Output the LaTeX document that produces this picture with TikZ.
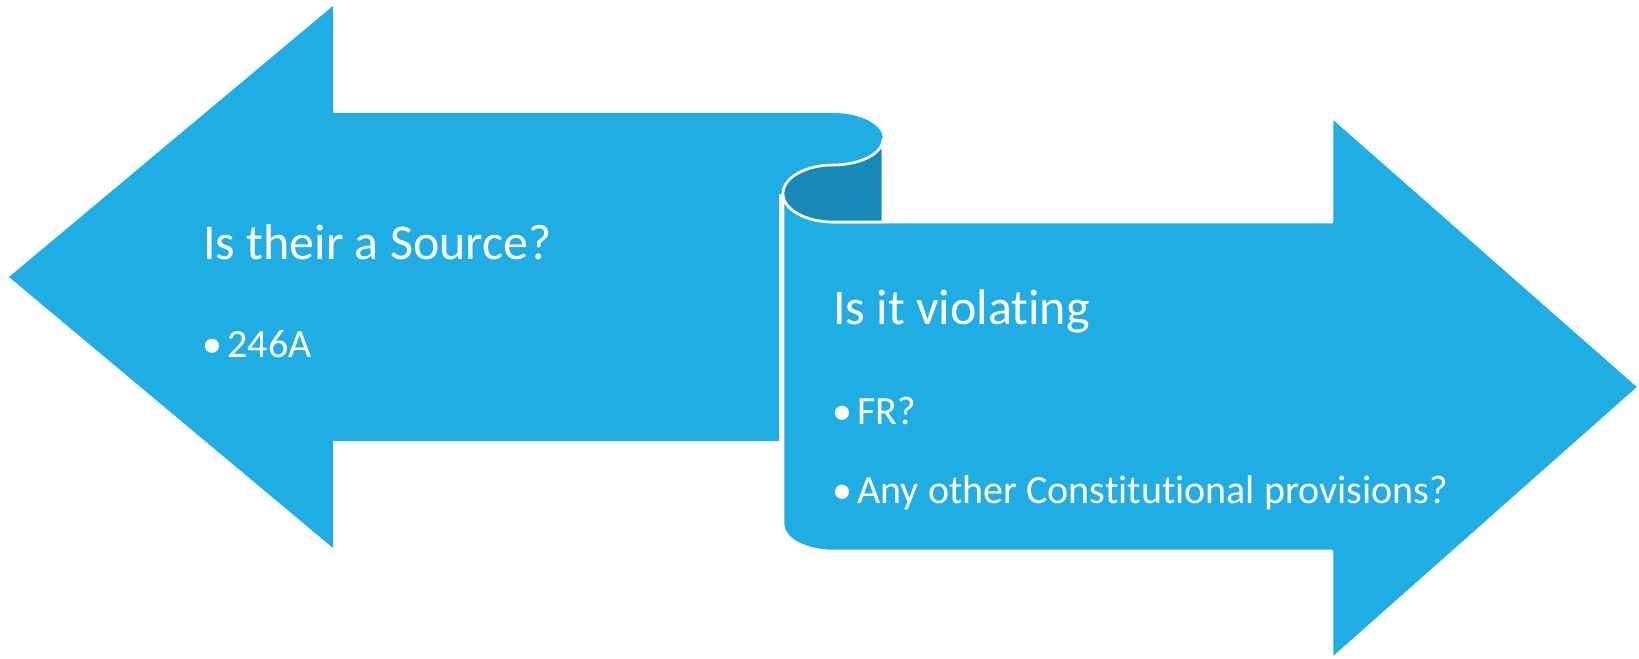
\documentclass[tikz,border=0pt]{standalone}
\usepackage{fontspec}
\setmainfont{Carlito}[Ligatures=NoCommon]
\definecolor{scrollblue}{RGB}{31,173,228}
\definecolor{curlblue}{RGB}{24,137,183}
\tikzset{
  shapefill/.style={fill=scrollblue},
  edgeline/.style={draw=white, line width=2pt, line join=round},
  headtext/.style={text=white, inner sep=0pt, anchor=base west, font=\fontsize{37.5}{45}\selectfont},
  itemtext/.style={text=white, inner sep=0pt, anchor=base west, font=\fontsize{30}{36}\selectfont}
}
\begin{document}
\begin{tikzpicture}[x=0.75pt, y=0.75pt]
            \useasboundingbox (0,0) rectangle (1639,659);
            \fill [shapefill] (9,382) -- (333,653) -- (333,546) -- (833,546) arc [start angle=90, end angle=-90, x radius=50, y radius=26] -- (833,465) -- (779,465) -- (779,218) -- (333,218) -- (333,111) -- cycle;
            \filldraw [shapefill, edgeline] (783,465.5) -- (783,135) arc [start angle=180, end angle=270, x radius=50, y radius=27] -- (1332,108) -- (1332,0) -- (1639,272) -- (1332,542) -- (1332,437) -- (833,437) arc [start angle=270, end angle=180, x radius=50, y radius=28.5] -- cycle;
            \filldraw [fill=curlblue, edgeline] (883,520) -- (883,437) -- (833,437) arc [start angle=270, end angle=90, x radius=50, y radius=28.5] arc [start angle=270, end angle=360, x radius=50, y radius=26] -- cycle;
            
            \node [headtext] (srchead) at (203,399) {Is their a Source?};
            \node [itemtext] (srcitem) at (202,301) {•\hspace{4pt}246A};
            \node [headtext] (viohead) at (833,334) {Is it violating};
            \node [itemtext] (fritem) at (832,234) {•\hspace{4pt}FR?};
            \node [itemtext] (anyitem) at (832,155) {•\hspace{4pt}Any other Constitutional provisions?};
        \end{tikzpicture}
\end{document}
